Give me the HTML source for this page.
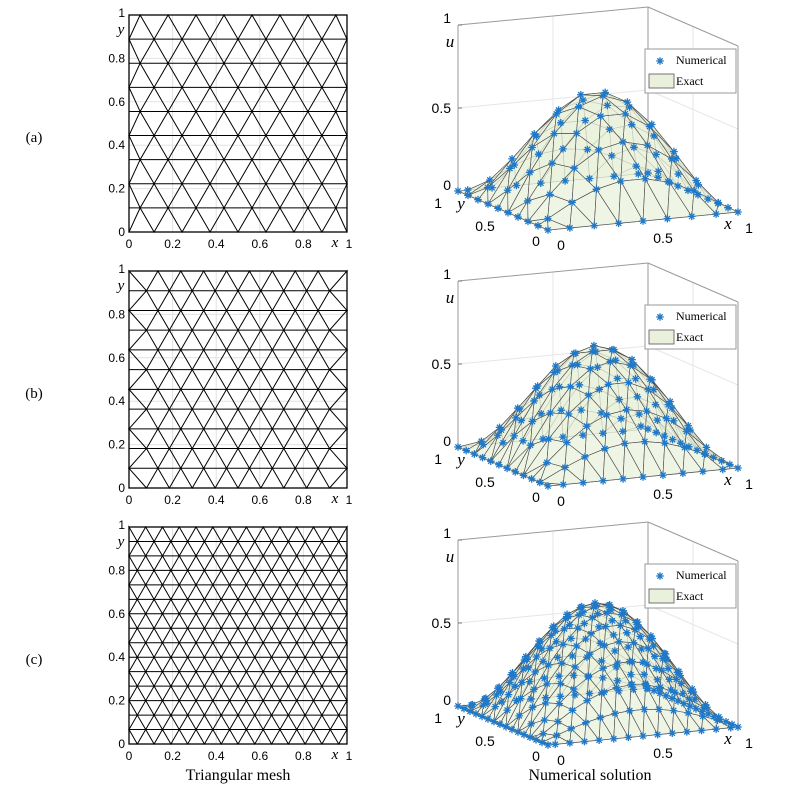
<!DOCTYPE html>
<html><head><meta charset="utf-8"><style>
html,body{margin:0;padding:0;background:#fff;}
svg{display:block;font-family:"Liberation Sans",sans-serif;}
.serif{font-family:"Liberation Serif",serif;}
</style></head><body>
<svg id="fig" width="804" height="801" viewBox="0 0 804 801" xmlns="http://www.w3.org/2000/svg"></svg>
<script>
// data
const panelLabels = ["(a)", "(b)", "(c)"];
const rowCounts = [9, 11, 15];
const peakAmp = [0.66, 0.67, 0.68];
const meshTicks = [0, 0.2, 0.4, 0.6, 0.8, 1];
const meshTickLabels = ["0", "0.2", "0.4", "0.6", "0.8", "1"];
const uTicks = [0, 0.5, 1];
const uTickLabels = ["0", "0.5", "1"];

const NS = "http://www.w3.org/2000/svg";
const svg = document.getElementById('fig');
function mk(tag, attrs, parent, name) {
  const e = document.createElementNS(NS, tag);
  for (const k in attrs) e.setAttribute(k, attrs[k]);
  
  
  (parent || svg).appendChild(e);
  return e;
}
function txt(s, x, y, size, anchor, parent, name, cls, style) {
  const t = mk('text', {x: x, y: y, 'font-size': size, 'text-anchor': anchor || 'start', fill: '#000'}, parent, name);
  if (cls) t.setAttribute('class', cls);
  if (style) t.setAttribute('font-style', style);
  t.textContent = s;
  return t;
}

function buildMesh(n) {
  const h = 2 / (Math.sqrt(3) * n);
  const rows = [];
  for (let j = 0; j <= n; j++) {
    const off = (j % 2 === 0) ? 0 : h / 2;
    const xs = [0, 1];
    for (let k = 0; k <= 20; k++) {
      const d = off + k * h;
      if (0.5 - d > 0.3 * h) { xs.push(0.5 - d); if (d > 1e-9) xs.push(0.5 + d); }
    }
    xs.sort((a, b) => a - b);
    rows.push(xs.map(x => [x, j / n]));
  }
  const tris = [];
  for (let j = 0; j < n; j++) {
    const A = rows[j], B = rows[j + 1];
    let i = 0, k = 0;
    while (i < A.length - 1 || k < B.length - 1) {
      let advA;
      if (k === B.length - 1) advA = true;
      else if (i === A.length - 1) advA = false;
      else advA = Math.abs(A[i + 1][0] - B[k][0]) < Math.abs(B[k + 1][0] - A[i][0]);
      if (advA) { tris.push([A[i], A[i + 1], B[k]]); i++; }
      else { tris.push([A[i], B[k], B[k + 1]]); k++; }
    }
  }
  return {rows, tris};
}

function star(g, x, y) {
  const r = 3.8, c = '#1f78c8';
  const d = `M${x - r},${y}L${x + r},${y}M${x},${y - r}L${x},${y + r}M${x - r * 0.7},${y - r * 0.7}L${x + r * 0.7},${y + r * 0.7}M${x - r * 0.7},${y + r * 0.7}L${x + r * 0.7},${y - r * 0.7}`;
  mk('path', {d: d, stroke: c, 'stroke-width': 1.3, fill: 'none'}, g, 'numerical-marker');
}

const meshOff = [0, 256, 512];
const surfOff = [0, 256, 515];
const labelY = [142, 398, 664];

for (let p = 0; p < 3; p++) {
  const mesh = buildMesh(rowCounts[p]);
  txt(panelLabels[p], 34, labelY[p], 15, 'middle', svg, 'panel-label', 'serif');

  // ---- 2D mesh ----
  const g = mk('g', {}, svg, 'mesh-plot');
  const x0 = 129, x1 = 347, yT = 15 + meshOff[p], yB = 232 + meshOff[p];
  const sx = v => x0 + v * (x1 - x0), sy = v => yB - v * (yB - yT);
  meshTicks.forEach((t, i) => {
    if (t > 0 && t < 1) {
      mk('line', {x1: sx(t), y1: yT, x2: sx(t), y2: yB, stroke: '#e2e2e2', 'stroke-width': 1}, g, 'x-gridline');
      mk('line', {x1: x0, y1: sy(t), x2: x1, y2: sy(t), stroke: '#e2e2e2', 'stroke-width': 1}, g, 'y-gridline');
    }
  });
  let d = '';
  mesh.tris.forEach(t => {
    d += `M${sx(t[0][0]).toFixed(2)},${sy(t[0][1]).toFixed(2)}L${sx(t[1][0]).toFixed(2)},${sy(t[1][1]).toFixed(2)}L${sx(t[2][0]).toFixed(2)},${sy(t[2][1]).toFixed(2)}Z`;
  });
  mk('path', {d: d, stroke: '#000', 'stroke-width': 1, fill: 'none'}, g, 'mesh-edges');
  mk('rect', {x: x0, y: yT, width: x1 - x0, height: yB - yT, fill: 'none', stroke: '#000', 'stroke-width': 1.3}, g, 'mesh-frame');
  meshTicks.forEach((t, i) => {
    txt(meshTickLabels[i], sx(t) - (t === 1 ? -2 : 0), yB + 16, 12, 'middle', g, 'x-tick-label');
    txt(meshTickLabels[i], x0 - 4, sy(t) + 4 + (t === 1 ? -2 : 0), 12, 'end', g, 'y-tick-label');
  });
  txt('x', 335, yB + 15, 15, 'middle', g, 'x-axis-title', 'serif', 'italic');
  txt('y', 121, yT + 19, 15, 'middle', g, 'y-axis-title', 'serif', 'italic');

  // ---- 3D surface ----
  const s = mk('g', {}, svg, 'surface-plot');
  const O = [548, 230 + surfOff[p]];
  const P = (x, y, z) => [O[0] + 190 * x - 90 * y, O[1] - 18 * x - 39 * y - 166 * z];
  const line = (a, b, c, w, nm) => mk('line', {x1: a[0], y1: a[1], x2: b[0], y2: b[1], stroke: c, 'stroke-width': w}, s, nm);
  line(P(0.5, 1, 0), P(0.5, 1, 1), '#e6e6e6', 1, 'back-gridline');
  line(P(1, 0.5, 0), P(1, 0.5, 1), '#e6e6e6', 1, 'back-gridline');
  line(P(0, 1, 0.5), P(1, 1, 0.5), '#e6e6e6', 1, 'back-gridline');
  line(P(1, 1, 0.5), P(1, 0, 0.5), '#e6e6e6', 1, 'back-gridline');
  line(P(0, 1, 0), P(0, 1, 1), '#9a9a9a', 1, 'u-axis-line');
  line(P(1, 1, 0), P(1, 1, 1), '#9a9a9a', 1, 'box-edge');
  line(P(1, 0, 0), P(1, 0, 1), '#9a9a9a', 1, 'box-edge');
  line(P(0, 1, 1), P(1, 1, 1), '#9a9a9a', 1, 'box-edge');
  line(P(1, 1, 1), P(1, 0, 1), '#9a9a9a', 1, 'box-edge');
  line(P(0, 1, 0), P(0, 0, 0), '#9a9a9a', 1, 'y-axis-line');
  line(P(0, 0, 0), P(1, 0, 0), '#9a9a9a', 1, 'x-axis-line');
  uTicks.forEach(t => line(P(0, 1, t), [P(0, 1, t)[0] + 4, P(0, 1, t)[1]], '#777', 1, 'u-tick'));
  const A = peakAmp[p];
  const f = (x, y) => A * Math.sin(Math.PI * x) * Math.sin(Math.PI * y);
  const faces = mesh.tris.map(t => ({t, k: t.reduce((a, v) => a + 0.7 * v[1] + 0.3 * v[0], 0)}));
  faces.sort((a, b) => b.k - a.k);
  const fg = mk('g', {}, s, 'exact-surface');
  faces.forEach(fc => {
    const pts = fc.t.map(v => P(v[0], v[1], f(v[0], v[1])).map(q => q.toFixed(2)).join(',')).join(' ');
    mk('polygon', {points: pts, fill: '#e9f1dc', 'fill-opacity': 0.75, stroke: '#4a4a4a', 'stroke-width': 0.6}, fg, 'surface-face');
  });
  const mg = mk('g', {}, s, 'numerical-markers');
  mesh.rows.forEach(r => r.forEach(v => { const q = P(v[0], v[1], f(v[0], v[1])); star(mg, q[0], q[1]); }));
  const zy = P(0, 1, 0)[1];
  txt(uTickLabels[2], 451, P(0, 1, 1)[1] - 2, 14, 'end', s, 'u-tick-label');
  txt('u', 450, P(0, 1, 1)[1] + 22, 17, 'middle', s, 'u-axis-title', 'serif', 'italic');
  txt(uTickLabels[1], 451, P(0, 1, 0.5)[1] + 5, 14, 'end', s, 'u-tick-label');
  txt(uTickLabels[0], 451, zy - 1, 14, 'end', s, 'u-tick-label');
  txt('1', 442, zy + 17, 14, 'end', s, 'y-tick-label');
  txt('y', 461, zy + 18, 17, 'middle', s, 'y-axis-title', 'serif', 'italic');
  txt('0.5', 485, zy + 40, 14, 'middle', s, 'y-tick-label');
  txt('0', 536, zy + 55, 14, 'middle', s, 'y-tick-label');
  txt('0', 561, zy + 59, 14, 'middle', s, 'x-tick-label');
  txt('0.5', 663, zy + 52, 14, 'middle', s, 'x-tick-label');
  txt('x', 728, zy + 38, 17, 'middle', s, 'x-axis-title', 'serif', 'italic');
  txt('1', 749, zy + 42, 14, 'middle', s, 'x-tick-label');
  const lg = mk('g', {}, s, 'legend');
  const ly = 49 + surfOff[p];
  mk('rect', {x: 645, y: ly, width: 91, height: 44, fill: '#fff', stroke: '#999', 'stroke-width': 1}, lg, 'legend-box');
  star(lg, 660, ly + 12);
  txt('Numerical', 676, ly + 15, 12, 'start', lg, 'legend-numerical-label', 'serif');
  mk('rect', {x: 649, y: ly + 25, width: 25, height: 14, fill: '#e9f1dc', stroke: '#555', 'stroke-width': 0.8}, lg, 'legend-exact-swatch');
  txt('Exact', 676, ly + 36, 12, 'start', lg, 'legend-exact-label', 'serif');
}
txt('Triangular mesh', 238, 780, 16, 'middle', svg, 'left-column-title', 'serif');
txt('Numerical solution', 590, 780, 16, 'middle', svg, 'right-column-title', 'serif');
</script>
</body></html>
